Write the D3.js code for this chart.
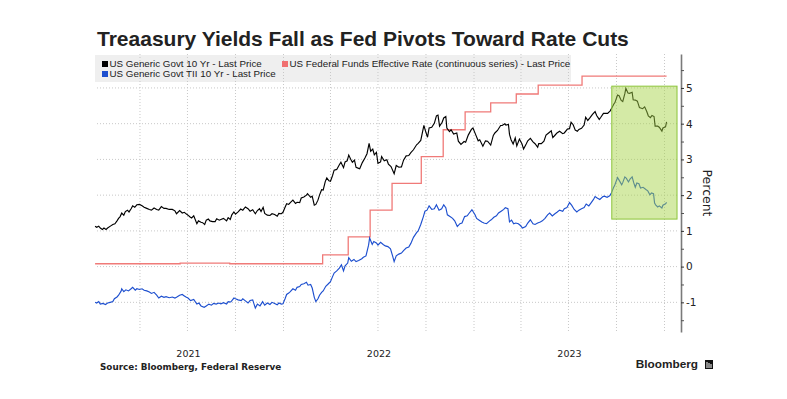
<!DOCTYPE html>
<html>
<head>
<meta charset="utf-8">
<script src="https://cdn.jsdelivr.net/npm/d3@7"></script>
<style>
  body { margin: 0; background: #fff; }
  svg text { fill: #222; }
</style>
</head>
<body>
<div id="graph"></div>
<script>
// US Generic Govt 10 Yr
var tenYrDates = [
  "2021-01-05","2021-01-08","2021-01-12","2021-01-15","2021-01-19","2021-01-22","2021-01-26","2021-01-29","2021-02-04","2021-02-08",
  "2021-02-12","2021-02-16","2021-02-19","2021-02-22","2021-02-25","2021-03-01","2021-03-04","2021-03-08","2021-03-11","2021-03-15",
  "2021-03-18","2021-03-22","2021-03-26","2021-03-31","2021-04-05","2021-04-09","2021-04-14","2021-04-19","2021-04-23","2021-04-28",
  "2021-05-03","2021-05-07","2021-05-12","2021-05-17","2021-05-21","2021-05-27","2021-06-02","2021-06-07","2021-06-10","2021-06-16",
  "2021-06-21","2021-06-25","2021-06-29","2021-07-02","2021-07-06","2021-07-09","2021-07-13","2021-07-19","2021-07-22","2021-07-27",
  "2021-07-30","2021-08-03","2021-08-06","2021-08-10","2021-08-13","2021-08-18","2021-08-23","2021-08-26","2021-08-31","2021-09-03",
  "2021-09-08","2021-09-14","2021-09-17","2021-09-21","2021-09-24","2021-09-28","2021-10-01","2021-10-06","2021-10-11","2021-10-15",
  "2021-10-20","2021-10-25","2021-10-29","2021-11-03","2021-11-08","2021-11-12","2021-11-16","2021-11-19","2021-11-23","2021-11-26",
  "2021-12-01","2021-12-06","2021-12-10","2021-12-15","2021-12-20","2021-12-23","2021-12-28","2021-12-31",
  "2022-01-04","2022-01-07","2022-01-11","2022-01-14","2022-01-19","2022-01-24","2022-01-27","2022-02-01","2022-02-04","2022-02-09",
  "2022-02-14","2022-02-16","2022-02-22","2022-02-25","2022-03-01","2022-03-04","2022-03-08","2022-03-11","2022-03-15","2022-03-18",
  "2022-03-22","2022-03-25","2022-03-29","2022-04-01","2022-04-05","2022-04-08","2022-04-13","2022-04-18","2022-04-21","2022-04-26",
  "2022-04-29","2022-05-03","2022-05-06","2022-05-10","2022-05-13","2022-05-17","2022-05-20","2022-05-25","2022-05-27","2022-06-01",
  "2022-06-06","2022-06-10","2022-06-14","2022-06-17","2022-06-21","2022-06-24","2022-06-28","2022-07-01","2022-07-06","2022-07-08",
  "2022-07-13","2022-07-18","2022-07-21","2022-07-26","2022-08-01","2022-08-05","2022-08-10","2022-08-15","2022-08-19","2022-08-24",
  "2022-08-29","2022-09-02","2022-09-07","2022-09-13","2022-09-16","2022-09-21","2022-09-27","2022-09-30","2022-10-04","2022-10-07",
  "2022-10-12","2022-10-17","2022-10-21","2022-10-24","2022-10-27","2022-11-01","2022-11-04","2022-11-08","2022-11-10","2022-11-15",
  "2022-11-18","2022-11-23","2022-11-29","2022-12-02","2022-12-07","2022-12-13","2022-12-16","2022-12-21","2022-12-27","2022-12-30",
  "2023-01-04","2023-01-09","2023-01-12","2023-01-18","2023-01-23","2023-01-27","2023-02-02","2023-02-07","2023-02-10","2023-02-15",
  "2023-02-21","2023-02-24","2023-03-01","2023-03-03","2023-03-08","2023-03-10","2023-03-13","2023-03-17","2023-03-21","2023-03-24",
  "2023-03-29","2023-04-03","2023-04-06","2023-04-11","2023-04-14","2023-04-19","2023-04-24","2023-04-28","2023-05-03","2023-05-05",
  "2023-05-10","2023-05-15","2023-05-19","2023-05-24","2023-05-29","2023-06-01","2023-06-06","2023-06-09","2023-06-14","2023-06-20",
  "2023-06-23","2023-06-29","2023-07-03","2023-07-06","2023-07-10","2023-07-14","2023-07-18","2023-07-21","2023-07-26","2023-07-31",
  "2023-08-03","2023-08-07","2023-08-11","2023-08-16","2023-08-21","2023-08-24","2023-08-29","2023-09-01","2023-09-06","2023-09-11",
  "2023-09-14","2023-09-19","2023-09-22","2023-09-26","2023-09-28","2023-10-03","2023-10-06","2023-10-10","2023-10-13","2023-10-17",
  "2023-10-19","2023-10-23","2023-10-26","2023-10-31","2023-11-02","2023-11-06","2023-11-10","2023-11-14","2023-11-20","2023-11-24",
  "2023-11-28","2023-12-01","2023-12-05","2023-12-08","2023-12-12","2023-12-14","2023-12-19","2023-12-22","2023-12-27","2023-12-29",
  "2024-01-03","2024-01-05"];
var tenYrValues = [
  1.13,1.10,1.13,1.08,1.04,1.08,1.04,1.08,1.14,1.18,
  1.20,1.28,1.35,1.40,1.50,1.44,1.54,1.58,1.53,1.62,
  1.70,1.66,1.73,1.74,1.70,1.66,1.63,1.60,1.58,1.64,
  1.60,1.58,1.68,1.63,1.63,1.60,1.60,1.56,1.48,1.57,
  1.50,1.52,1.47,1.44,1.39,1.36,1.42,1.20,1.28,1.24,
  1.23,1.18,1.30,1.33,1.28,1.26,1.26,1.34,1.30,1.32,
  1.35,1.28,1.37,1.32,1.45,1.53,1.47,1.53,1.61,1.58,
  1.67,1.62,1.55,1.59,1.48,1.57,1.62,1.54,1.66,1.49,
  1.44,1.43,1.48,1.46,1.41,1.49,1.48,1.52,
  1.66,1.76,1.74,1.79,1.86,1.77,1.80,1.79,1.92,1.95,
  2.00,2.04,1.94,1.97,1.72,1.74,1.86,2.00,2.15,2.14,
  2.38,2.48,2.40,2.39,2.55,2.70,2.72,2.85,2.92,2.77,
  2.93,2.96,3.12,3.00,2.92,2.98,2.78,2.75,2.74,2.91,
  3.04,3.16,3.45,3.23,3.29,3.13,3.20,2.89,2.93,3.08,
  2.96,2.99,2.87,2.80,2.60,2.83,2.78,2.79,2.98,3.10,
  3.11,3.19,3.27,3.41,3.45,3.53,3.95,3.80,3.62,3.88,
  3.90,4.01,4.22,4.24,3.93,4.04,4.16,4.20,3.88,3.78,
  3.83,3.71,3.74,3.51,3.42,3.50,3.48,3.68,3.84,3.88,
  3.70,3.52,3.55,3.37,3.52,3.51,3.40,3.67,3.74,3.81,
  3.95,3.95,4.00,3.96,3.98,3.70,3.55,3.43,3.60,3.38,
  3.57,3.43,3.29,3.43,3.52,3.59,3.49,3.44,3.34,3.44,
  3.44,3.51,3.68,3.74,3.80,3.61,3.69,3.74,3.79,3.72,
  3.74,3.85,3.86,4.04,3.97,3.82,3.79,3.84,3.87,3.96,
  4.18,4.09,4.16,4.26,4.34,4.23,4.12,4.18,4.29,4.29,
  4.29,4.36,4.44,4.55,4.59,4.80,4.78,4.65,4.62,4.84,
  4.99,4.86,4.85,4.88,4.67,4.66,4.63,4.45,4.42,4.47,
  4.34,4.22,4.17,4.23,4.20,3.93,3.93,3.90,3.79,3.88,
  3.91,4.05];

// US Generic Govt TII 10 Yr
var tipsDates = [
  "2021-01-05","2021-01-08","2021-01-12","2021-01-15","2021-01-20","2021-01-25","2021-01-29","2021-02-03","2021-02-08","2021-02-11",
  "2021-02-16","2021-02-19","2021-02-24","2021-02-25","2021-03-01","2021-03-05","2021-03-10","2021-03-15","2021-03-18","2021-03-23",
  "2021-03-26","2021-03-31","2021-04-05","2021-04-09","2021-04-14","2021-04-19","2021-04-23","2021-04-28","2021-05-03","2021-05-07",
  "2021-05-12","2021-05-17","2021-05-21","2021-05-27","2021-06-02","2021-06-07","2021-06-10","2021-06-16","2021-06-21","2021-06-25",
  "2021-06-29","2021-07-02","2021-07-07","2021-07-13","2021-07-19","2021-07-23","2021-07-27","2021-08-02","2021-08-06","2021-08-11",
  "2021-08-16","2021-08-20","2021-08-25","2021-08-30","2021-09-03","2021-09-08","2021-09-14","2021-09-17","2021-09-22","2021-09-28",
  "2021-10-01","2021-10-06","2021-10-12","2021-10-15","2021-10-20","2021-10-25","2021-10-29","2021-11-03","2021-11-08","2021-11-12",
  "2021-11-17","2021-11-22","2021-11-26","2021-12-01","2021-12-06","2021-12-10","2021-12-15","2021-12-20","2021-12-23","2021-12-28",
  "2021-12-31",
  "2022-01-04","2022-01-07","2022-01-11","2022-01-14","2022-01-19","2022-01-24","2022-01-27","2022-02-01","2022-02-04","2022-02-09",
  "2022-02-14","2022-02-17","2022-02-22","2022-02-25","2022-03-01","2022-03-04","2022-03-08","2022-03-11","2022-03-15","2022-03-18",
  "2022-03-23","2022-03-28","2022-04-01","2022-04-05","2022-04-08","2022-04-13","2022-04-18","2022-04-22","2022-04-26","2022-04-29",
  "2022-05-04","2022-05-06","2022-05-11","2022-05-16","2022-05-20","2022-05-25","2022-05-31","2022-06-03","2022-06-08","2022-06-13",
  "2022-06-15","2022-06-20","2022-06-23","2022-06-28","2022-07-01","2022-07-06","2022-07-11","2022-07-15","2022-07-20","2022-07-25",
  "2022-07-29","2022-08-01","2022-08-05","2022-08-10","2022-08-15","2022-08-19","2022-08-24","2022-08-29","2022-09-02","2022-09-07",
  "2022-09-13","2022-09-16","2022-09-21","2022-09-26","2022-09-29","2022-10-03","2022-10-07","2022-10-12","2022-10-17","2022-10-21",
  "2022-10-26","2022-10-31","2022-11-04","2022-11-08","2022-11-11","2022-11-16","2022-11-21","2022-11-25","2022-11-30","2022-12-05",
  "2022-12-09","2022-12-14","2022-12-19","2022-12-23","2022-12-28",
  "2023-01-03","2023-01-06","2023-01-11","2023-01-16","2023-01-20","2023-01-25","2023-01-31","2023-02-03","2023-02-08","2023-02-13",
  "2023-02-17","2023-02-22","2023-02-27","2023-03-02","2023-03-07","2023-03-10","2023-03-14","2023-03-18","2023-03-22","2023-03-27",
  "2023-03-31","2023-04-04","2023-04-10","2023-04-14","2023-04-19","2023-04-24","2023-04-28","2023-05-03","2023-05-08","2023-05-12",
  "2023-05-17","2023-05-22","2023-05-26","2023-05-31","2023-06-05","2023-06-09","2023-06-14","2023-06-20","2023-06-23","2023-06-28",
  "2023-07-03","2023-07-07","2023-07-12","2023-07-17","2023-07-21","2023-07-26","2023-07-31","2023-08-04","2023-08-09","2023-08-14",
  "2023-08-18","2023-08-21","2023-08-25","2023-08-30","2023-09-05","2023-09-08","2023-09-13","2023-09-18","2023-09-21","2023-09-25",
  "2023-09-28","2023-10-03","2023-10-06","2023-10-11","2023-10-13","2023-10-17","2023-10-20","2023-10-24","2023-10-27","2023-10-31",
  "2023-11-03","2023-11-06","2023-11-09","2023-11-13","2023-11-16","2023-11-21","2023-11-27","2023-11-30","2023-12-04","2023-12-07",
  "2023-12-11","2023-12-13","2023-12-15","2023-12-19","2023-12-22","2023-12-27","2023-12-29","2024-01-03","2024-01-05"];
var tipsValues = [
  -1.00,-1.02,-0.98,-1.05,-1.03,-1.06,-1.02,-1.00,-0.98,-0.90,
  -0.85,-0.80,-0.68,-0.62,-0.70,-0.65,-0.68,-0.62,-0.58,-0.66,
  -0.62,-0.64,-0.62,-0.66,-0.68,-0.71,-0.75,-0.72,-0.80,-0.88,
  -0.83,-0.86,-0.84,-0.87,-0.85,-0.88,-0.86,-0.80,-0.78,-0.82,
  -0.86,-0.88,-0.95,-0.92,-1.05,-1.02,-1.10,-1.14,-1.10,-1.05,
  -1.08,-1.03,-1.05,-1.02,-1.04,-1.01,-1.05,-0.98,-0.99,-0.88,
  -0.90,-0.93,-0.95,-0.90,-0.96,-1.02,-0.95,-0.93,-1.16,-1.05,
  -1.10,-0.98,-1.08,-1.02,-1.06,-1.00,-1.03,-1.07,-1.02,-1.05,
  -1.04,
  -0.90,-0.78,-0.74,-0.70,-0.62,-0.66,-0.58,-0.56,-0.50,-0.48,
  -0.44,-0.52,-0.50,-0.60,-0.86,-0.98,-0.90,-0.80,-0.72,-0.68,
  -0.55,-0.48,-0.42,-0.28,-0.18,-0.12,-0.04,0.05,-0.12,0.02,
  0.10,0.25,0.15,0.20,0.14,0.17,0.22,0.26,0.30,0.60,
  0.80,0.62,0.70,0.66,0.60,0.68,0.62,0.58,0.56,0.50,
  0.30,0.14,0.30,0.35,0.38,0.45,0.52,0.55,0.65,0.82,
  0.95,1.00,1.18,1.40,1.55,1.58,1.70,1.60,1.62,1.73,
  1.58,1.62,1.73,1.65,1.45,1.40,1.35,1.28,1.12,1.20,
  1.22,1.40,1.42,1.50,1.59,
  1.45,1.35,1.30,1.25,1.22,1.20,1.28,1.31,1.38,1.42,
  1.50,1.55,1.60,1.65,1.62,1.25,1.30,1.20,1.22,1.20,
  1.15,1.08,1.12,1.22,1.31,1.20,1.18,1.22,1.25,1.28,
  1.35,1.45,1.50,1.42,1.48,1.52,1.58,1.55,1.62,1.65,
  1.79,1.72,1.60,1.53,1.58,1.62,1.65,1.75,1.70,1.80,
  1.88,1.96,1.92,1.88,1.96,1.97,1.94,1.98,2.05,2.20,
  2.29,2.49,2.42,2.29,2.35,2.51,2.47,2.37,2.45,2.51,
  2.35,2.22,2.34,2.32,2.20,2.22,2.15,2.12,2.01,2.06,
  2.04,1.78,1.73,1.67,1.70,1.64,1.72,1.76,1.80];

// US Federal Funds Effective Rate (step series)
var fedDates = ["2021-01-05","2021-06-17","2021-09-20","2022-03-17","2022-05-05","2022-06-16","2022-07-28","2022-09-22",
  "2022-11-03","2022-12-15","2023-02-02","2023-03-23","2023-05-04","2023-07-27","2024-01-05"];
var fedValues = [0.08,0.10,0.08,0.33,0.83,1.58,2.33,3.08,3.83,4.33,4.58,4.83,5.08,5.33,5.33];

var yTicks = [-1, 0, 1, 2, 3, 4, 5];
var yMinorTicks = [-1.5, -0.5, 0.5, 1.5, 2.5, 3.5, 4.5, 5.5];
var yearLabels = ["2021", "2022", "2023"];
var highlightDates = ["2023-09-22", "2024-01-25"];
var highlightRange = [1.33, 5.05];

var legendItems = [
  ["US Generic Govt 10 Yr - Last Price", "#000000"],
  ["US Federal Funds Effective Rate (continuous series) - Last Price", "#f07070"],
  ["US Generic Govt TII 10 Yr - Last Price", "#1d4fcf"]
];

function draw(){
  var parse = d3.timeParse("%Y-%m-%d");
  var W = 787, H = 399;
  var svg = d3.select("#graph").append("svg").attr("width", W).attr("height", H);
  svg.append("rect").attr("width", W).attr("height", H).attr("fill", "white");

  var plotLeft = 97, plotRight = 681, plotTop = 54, plotBottom = 332;

  var x = d3.scaleTime()
    .domain([new Date(2021, 0, 1), new Date(2024, 0, 1)])
    .range([93, 664.5]);
  var y = d3.scaleLinear().domain([-1.83, 5.95]).range([plotBottom, plotTop]);

  // legend background (gridlines show through it)
  svg.append("rect").attr("x", 95).attr("y", 55).attr("width", 476).attr("height", 27)
    .attr("fill", "#efefef");

  // gridlines
  svg.selectAll("line.hgrid").data(yTicks).enter().append("line")
    .attr("class", "hgrid")
    .attr("x1", plotLeft).attr("x2", plotRight - 2)
    .attr("y1", function(d){ return y(d); }).attr("y2", function(d){ return y(d); })
    .attr("stroke", "#c8c8c8").attr("stroke-dasharray", "1,2");

  var quarters = d3.timeMonth.every(3).range(new Date(2021, 3, 1), new Date(2024, 0, 2));
  svg.selectAll("line.vgrid").data(quarters).enter().append("line")
    .attr("class", "vgrid")
    .attr("x1", function(d){ return x(d); }).attr("x2", function(d){ return x(d); })
    .attr("y1", plotTop).attr("y2", plotBottom)
    .attr("stroke", "#c8c8c8").attr("stroke-dasharray", "1,2");

  var line = d3.line()
    .x(function(d){ return x(d[0]); })
    .y(function(d){ return y(d[1]); });

  var fedData = fedDates.map(function(d, i){ return [parse(d), fedValues[i]]; });
  var tenData = tenYrDates.map(function(d, i){ return [parse(d), tenYrValues[i]]; });
  var tipsData = tipsDates.map(function(d, i){ return [parse(d), tipsValues[i]]; });

  svg.append("path").datum(fedData)
    .attr("d", line.curve(d3.curveStepAfter))
    .attr("fill", "none").attr("stroke", "#f07a78").attr("stroke-width", 1.3);
  line.curve(d3.curveLinear);
  svg.append("path").datum(tipsData)
    .attr("d", line)
    .attr("fill", "none").attr("stroke", "#1d4fcf").attr("stroke-width", 1.15);
  svg.append("path").datum(tenData)
    .attr("d", line)
    .attr("fill", "none").attr("stroke", "#000").attr("stroke-width", 1.15);

  // highlight box over the recent pivot
  var hx0 = x(parse(highlightDates[0])), hx1 = x(parse(highlightDates[1]));
  svg.append("rect")
    .attr("x", hx0).attr("y", y(highlightRange[1]))
    .attr("width", hx1 - hx0).attr("height", y(highlightRange[0]) - y(highlightRange[1]))
    .attr("fill", "#a6d446").attr("fill-opacity", 0.48)
    .attr("stroke", "#8cc43a").attr("stroke-width", 1);

  // right axis
  var axis = svg.append("g").attr("transform", "translate(" + plotRight + ",0)")
    .call(d3.axisRight(y).tickValues(yTicks).tickSize(3).tickSizeOuter(0).tickPadding(2)
      .tickFormat(function(d){ return d < 0 ? "-" + Math.abs(d) : d; }));
  axis.select(".domain").attr("stroke", "#7a7a7a").attr("stroke-width", 1.6);
  axis.selectAll(".tick line").attr("stroke", "#333");
  axis.selectAll("text").attr("font-family", "DejaVu Sans").attr("font-size", 10.5).attr("fill", "#222");

  svg.append("g").attr("transform", "translate(" + plotRight + ",0)")
    .call(d3.axisRight(y).tickValues(yMinorTicks).tickSize(3).tickFormat(""))
    .call(function(g){ g.select(".domain").remove(); g.selectAll("line").attr("stroke", "#555"); });

  svg.append("text")
    .text("Percent")
    .attr("transform", "translate(703,193) rotate(90)")
    .attr("text-anchor", "middle")
    .attr("font-family", "DejaVu Sans").attr("font-size", 12.5);

  // year labels
  svg.selectAll("text.year").data(yearLabels).enter().append("text")
    .attr("class", "year")
    .text(function(d){ return d; })
    .attr("x", function(d){ return x(new Date(+d, 6, 1)) + 1; })
    .attr("y", 357)
    .attr("text-anchor", "middle")
    .attr("font-family", "DejaVu Sans").attr("font-size", 9.5);

  // legend
  var legPos = [[102, 67], [282, 67], [102, 77]];
  legendItems.forEach(function(item, i){
    svg.append("rect").attr("x", legPos[i][0]).attr("y", legPos[i][1] - 6)
      .attr("width", 6).attr("height", 6).attr("fill", item[1]);
    svg.append("text").text(item[0])
      .attr("x", legPos[i][0] + 7.5).attr("y", legPos[i][1])
      .attr("font-family", "Liberation Sans").attr("font-size", 9.8).attr("fill", "#333");
  });

  // title and footer
  svg.append("text").text("Treaasury Yields Fall as Fed Pivots Toward Rate Cuts")
    .attr("x", 97).attr("y", 46)
    .attr("font-family", "Liberation Sans").attr("font-weight", "bold").attr("font-size", 21)
    .attr("fill", "#000");
  svg.append("text").text("Source: Bloomberg, Federal Reserve")
    .attr("x", 100).attr("y", 370)
    .attr("font-family", "DejaVu Sans").attr("font-weight", "bold").attr("font-size", 8.8)
    .attr("fill", "#000");
  svg.append("text").text("Bloomberg")
    .attr("x", 698).attr("y", 368).attr("text-anchor", "end")
    .attr("font-family", "Liberation Sans").attr("font-weight", "bold").attr("font-size", 11.8)
    .attr("fill", "#000");
  var logo = svg.append("g").attr("transform", "translate(705,360)");
  logo.append("rect").attr("width", 8).attr("height", 9).attr("fill", "#111");
  [1.5, 3.5, 5.5].forEach(function(bx, i){
    logo.append("rect").attr("x", bx).attr("y", 2 + i).attr("width", 1).attr("height", 6 - i).attr("fill", "#fff");
  });
}

draw();
</script>
</body>
</html>
